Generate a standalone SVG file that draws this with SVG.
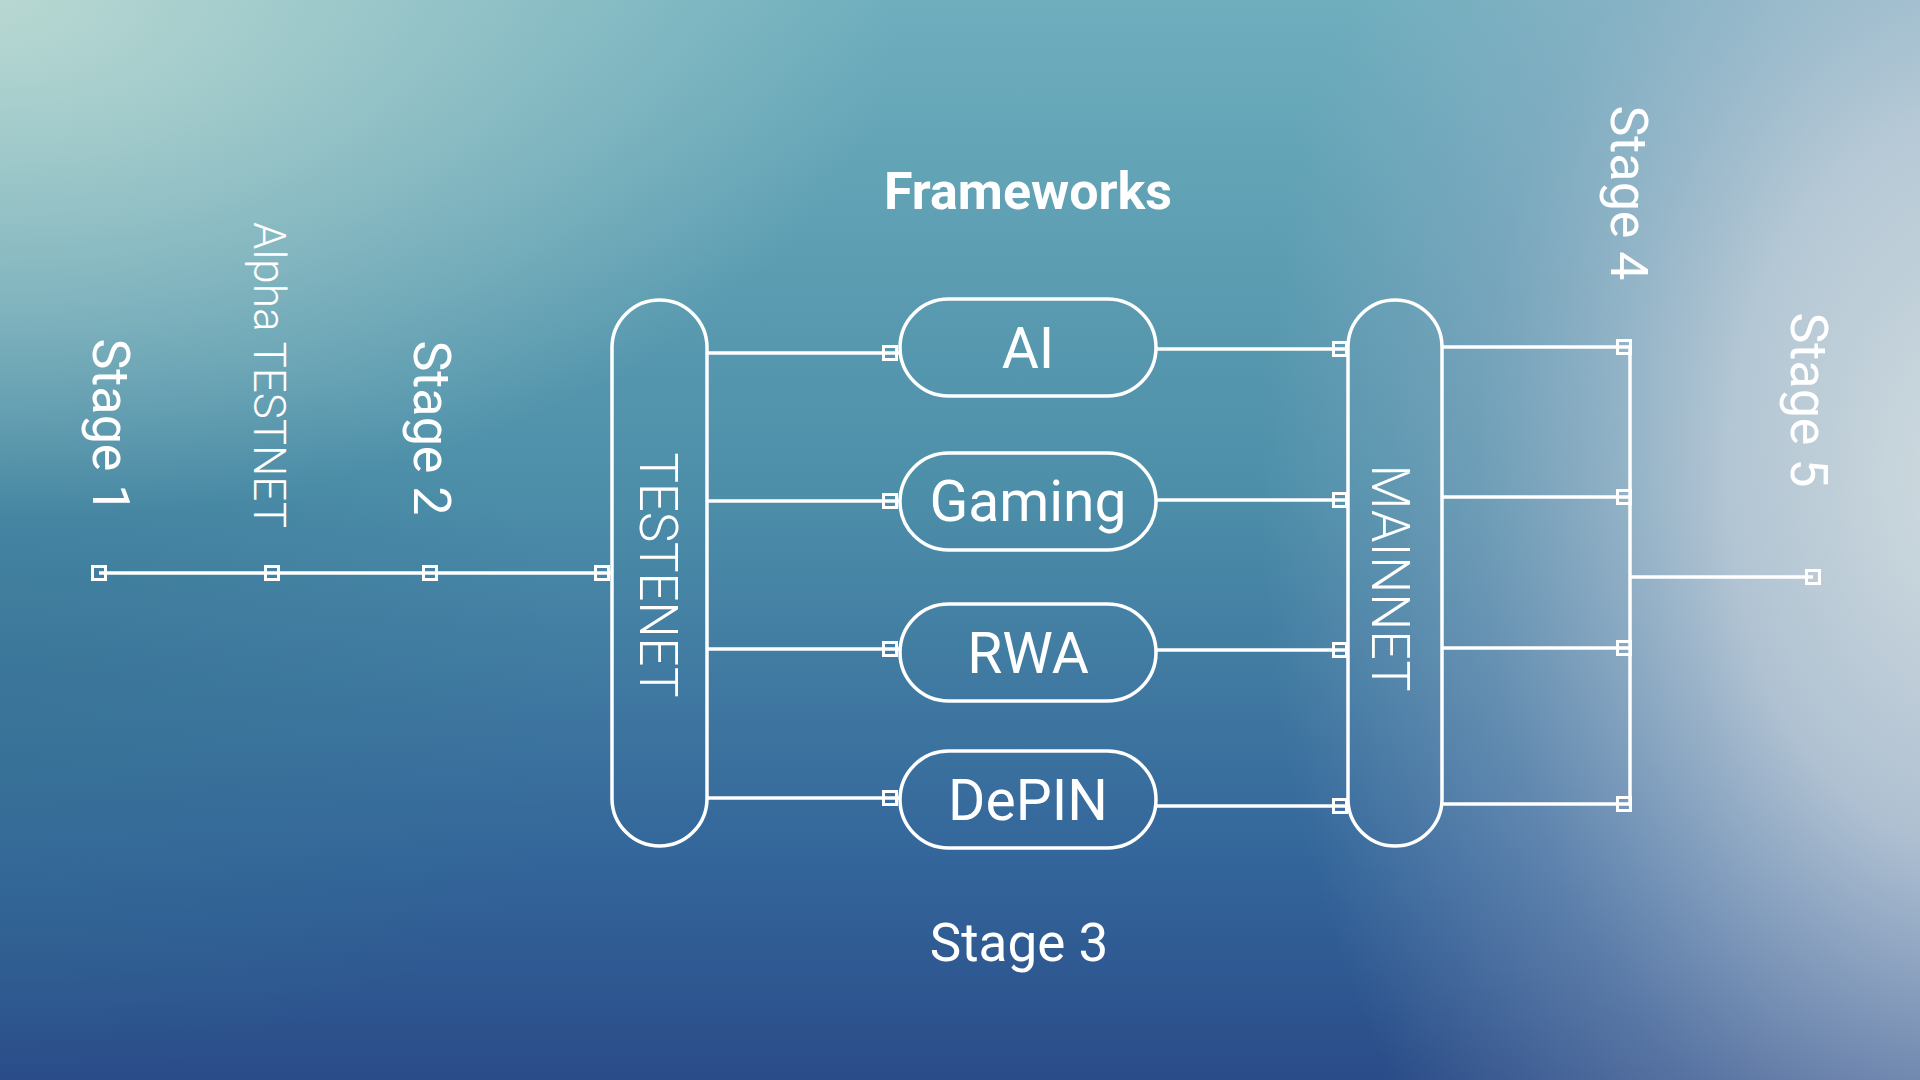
<svg xmlns="http://www.w3.org/2000/svg" width="1920" height="1080" viewBox="0 0 1920 1080">
  <defs>
    <linearGradient id="base" x1="0" y1="0" x2="0" y2="1">
      <stop offset="0" stop-color="#6eaebd"/>
      <stop offset="0.45" stop-color="#4d8fa9"/>
      <stop offset="0.8" stop-color="#33659a"/>
      <stop offset="1" stop-color="#2a4c88"/>
    </linearGradient>
    <radialGradient id="tl" cx="0" cy="0" r="1" gradientUnits="userSpaceOnUse" gradientTransform="translate(0 0) scale(900 520)">
      <stop offset="0" stop-color="#b8d8d2" stop-opacity="1"/>
      <stop offset="1" stop-color="#b8d8d2" stop-opacity="0"/>
    </radialGradient>
    <radialGradient id="rt" cx="0" cy="0" r="1" gradientUnits="userSpaceOnUse" gradientTransform="translate(1980 480) scale(720 1050)">
      <stop offset="0" stop-color="#d2dde0" stop-opacity="1"/>
      <stop offset="0.35" stop-color="#c4cfdb" stop-opacity="0.85"/>
      <stop offset="0.7" stop-color="#a9b8d0" stop-opacity="0.35"/>
      <stop offset="1" stop-color="#a9b8d0" stop-opacity="0"/>
    </radialGradient>
    <radialGradient id="bl" cx="0" cy="0" r="1" gradientUnits="userSpaceOnUse" gradientTransform="translate(0 700) scale(600 380)">
      <stop offset="0" stop-color="#357290" stop-opacity="0.5"/>
      <stop offset="1" stop-color="#357290" stop-opacity="0"/>
    </radialGradient>
    <style>
      .ln { stroke: #ffffff; stroke-width: 3.5; fill: none; }
      .pill { stroke: #ffffff; stroke-width: 3.5; fill: none; }
      .sq { stroke: #ffffff; stroke-width: 3; fill: none; }
      .t { fill: #ffffff; font-family: Roboto, "Liberation Sans", sans-serif; }
      .stage { font-size: 52px; font-weight: 400; }
      .lbl { font-size: 57px; font-weight: 400; }
      .big { font-size: 54px; font-weight: 300; }
    </style>
  </defs>

  <rect width="1920" height="1080" fill="url(#base)"/>
  <rect width="1920" height="1080" fill="url(#bl)"/>
  <rect width="1920" height="1080" fill="url(#tl)"/>
  <rect width="1920" height="1080" fill="url(#rt)"/>

  <g id="connectors">
    <line class="ln" x1="99" y1="573" x2="612" y2="573"/>
    <line class="ln" x1="707" y1="353" x2="900" y2="353"/>
    <line class="ln" x1="707" y1="501" x2="900" y2="501"/>
    <line class="ln" x1="707" y1="649" x2="900" y2="649"/>
    <line class="ln" x1="707" y1="798" x2="900" y2="798"/>
    <line class="ln" x1="1156" y1="349" x2="1348" y2="349"/>
    <line class="ln" x1="1156" y1="500" x2="1348" y2="500"/>
    <line class="ln" x1="1156" y1="650" x2="1348" y2="650"/>
    <line class="ln" x1="1156" y1="806" x2="1348" y2="806"/>
    <line class="ln" x1="1442" y1="347" x2="1630" y2="347"/>
    <line class="ln" x1="1442" y1="497" x2="1630" y2="497"/>
    <line class="ln" x1="1442" y1="648" x2="1630" y2="648"/>
    <line class="ln" x1="1442" y1="804" x2="1630" y2="804"/>
    <line class="ln" x1="1630" y1="345" x2="1630" y2="806"/>
    <line class="ln" x1="1630" y1="577" x2="1813" y2="577"/>
    <rect class="sq" x="92.5" y="566.5" width="13" height="13"/>
    <rect class="sq" x="265.5" y="566.5" width="13" height="13"/>
    <rect class="sq" x="423.5" y="566.5" width="13" height="13"/>
    <rect class="sq" x="595.5" y="566.5" width="13" height="13"/>
    <rect class="sq" x="883.5" y="346.5" width="13" height="13"/>
    <rect class="sq" x="883.5" y="494.5" width="13" height="13"/>
    <rect class="sq" x="883.5" y="642.5" width="13" height="13"/>
    <rect class="sq" x="883.5" y="791.5" width="13" height="13"/>
    <rect class="sq" x="1333.5" y="342.5" width="13" height="13"/>
    <rect class="sq" x="1333.5" y="493.5" width="13" height="13"/>
    <rect class="sq" x="1333.5" y="643.5" width="13" height="13"/>
    <rect class="sq" x="1333.5" y="799.5" width="13" height="13"/>
    <rect class="sq" x="1617.5" y="340.5" width="13" height="13"/>
    <rect class="sq" x="1617.5" y="490.5" width="13" height="13"/>
    <rect class="sq" x="1617.5" y="641.5" width="13" height="13"/>
    <rect class="sq" x="1617.5" y="797.5" width="13" height="13"/>
    <rect class="sq" x="1806.5" y="570.5" width="13" height="13"/>
  </g>

  <g id="stage1"><text class="t stage" text-anchor="middle" dominant-baseline="central" transform="translate(110 426) rotate(90)">Stage 1</text></g>
  <g id="alpha"><text class="t" font-size="44" font-weight="300" text-anchor="middle" dominant-baseline="central" transform="translate(269 375) rotate(90)">Alpha TESTNET</text></g>
  <g id="stage2"><text class="t stage" text-anchor="middle" dominant-baseline="central" transform="translate(431 428) rotate(90)">Stage 2</text></g>

  <g id="testenet">
    <rect class="pill" x="612" y="300" width="95" height="546" rx="47.5"/>
    <text class="t big" text-anchor="middle" dominant-baseline="central" textLength="245" lengthAdjust="spacingAndGlyphs" transform="translate(658 575) rotate(90)">TESTENET</text>
  </g>

  <g id="frameworks"><text class="t" x="1028" y="209" font-size="52" font-weight="700" text-anchor="middle" font-family="Inter, Roboto, sans-serif">Frameworks</text></g>

  <g id="ai">
    <rect class="pill" x="900" y="299" width="256" height="97" rx="48.5"/>
    <text class="t lbl" x="1028" y="368" text-anchor="middle">AI</text>
  </g>
  <g id="gaming">
    <rect class="pill" x="900" y="453" width="256" height="97" rx="48.5"/>
    <text class="t lbl" x="1028" y="521" text-anchor="middle">Gaming</text>
  </g>
  <g id="rwa">
    <rect class="pill" x="900" y="604" width="256" height="97" rx="48.5"/>
    <text class="t lbl" x="1028" y="673" text-anchor="middle">RWA</text>
  </g>
  <g id="depin">
    <rect class="pill" x="900" y="751" width="256" height="97" rx="48.5"/>
    <text class="t lbl" x="1028" y="820" text-anchor="middle">DePIN</text>
  </g>

  <g id="stage3"><text class="t" x="1019" y="961" font-size="53" text-anchor="middle">Stage 3</text></g>

  <g id="mainnet">
    <rect class="pill" x="1348" y="300" width="94" height="546" rx="47"/>
    <text class="t big" text-anchor="middle" dominant-baseline="central" textLength="227" lengthAdjust="spacingAndGlyphs" transform="translate(1390 578) rotate(90)">MAINNET</text>
  </g>

  <g id="stage4"><text class="t stage" text-anchor="middle" dominant-baseline="central" transform="translate(1628 193) rotate(90)">Stage 4</text></g>
  <g id="stage5"><text class="t stage" text-anchor="middle" dominant-baseline="central" transform="translate(1808 400) rotate(90)">Stage 5</text></g>
</svg>
